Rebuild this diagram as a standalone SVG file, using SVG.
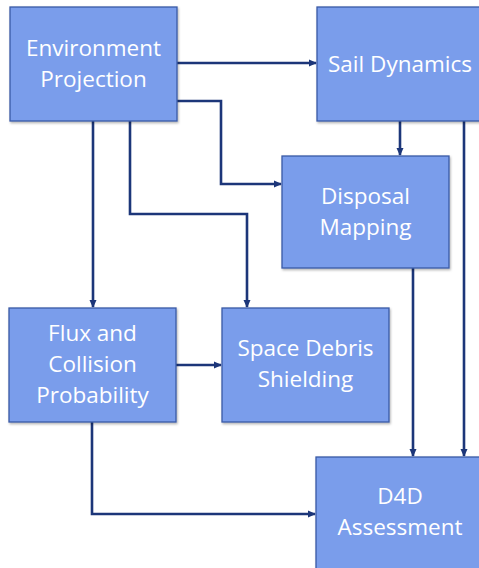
<svg xmlns="http://www.w3.org/2000/svg" width="479" height="568" viewBox="0 0 479 568">
<style>
.box{fill:#7a9deb;stroke:#3b5aa6;stroke-width:1.3}
.t{font-family:"Open Sans","Liberation Sans",sans-serif;font-size:22.5px;fill:#ffffff;text-anchor:middle}
.c{fill:none;stroke:#1c3679;stroke-width:2.6}
</style>
<defs>
<marker id="ah" markerWidth="8" markerHeight="8" refX="7" refY="4" orient="auto" markerUnits="userSpaceOnUse">
<path d="M0,0.5 L8,4 L0,7.5 Z" fill="#1c3679"/>
</marker>
<filter id="sh" x="-10%" y="-10%" width="120%" height="120%">
<feDropShadow dx="1" dy="1.5" stdDeviation="1" flood-color="#000" flood-opacity="0.3"/>
</filter>
</defs>
<g id="connectors">
<path class="c" d="M177,63 H316" marker-end="url(#ah)"/>
<path class="c" d="M177,101 H221 V184 H281" marker-end="url(#ah)"/>
<path class="c" d="M93,121 V307" marker-end="url(#ah)"/>
<path class="c" d="M130,121 V214 H247 V307" marker-end="url(#ah)"/>
<path class="c" d="M400,121 V155" marker-end="url(#ah)"/>
<path class="c" d="M464,121 V456" marker-end="url(#ah)"/>
<path class="c" d="M413,268 V456" marker-end="url(#ah)"/>
<path class="c" d="M176,365 H221" marker-end="url(#ah)"/>
<path class="c" d="M92,422 V514 H315" marker-end="url(#ah)"/>
</g>
<g id="env">
<rect class="box" filter="url(#sh)" x="10" y="7" width="167" height="114"/>
<text class="t" x="93.5" y="56">Environment</text>
<text class="t" x="93.5" y="87">Projection</text>
</g>
<g id="sail">
<rect class="box" filter="url(#sh)" x="317" y="7" width="167" height="114"/>
<text class="t" x="400" y="72">Sail Dynamics</text>
</g>
<g id="disposal">
<rect class="box" filter="url(#sh)" x="282" y="156" width="167" height="112"/>
<text class="t" x="365.5" y="204">Disposal</text>
<text class="t" x="365.5" y="235">Mapping</text>
</g>
<g id="flux">
<rect class="box" filter="url(#sh)" x="9" y="308" width="167" height="114"/>
<text class="t" x="92.5" y="341">Flux and</text>
<text class="t" x="92.5" y="372">Collision</text>
<text class="t" x="92.5" y="403">Probability</text>
</g>
<g id="shielding">
<rect class="box" filter="url(#sh)" x="222" y="308" width="167" height="114"/>
<text class="t" x="305.5" y="356">Space Debris</text>
<text class="t" x="305.5" y="387">Shielding</text>
</g>
<g id="d4d">
<rect class="box" filter="url(#sh)" x="316" y="457" width="167" height="114"/>
<text class="t" x="400" y="504">D4D</text>
<text class="t" x="400" y="535">Assessment</text>
</g>
</svg>
